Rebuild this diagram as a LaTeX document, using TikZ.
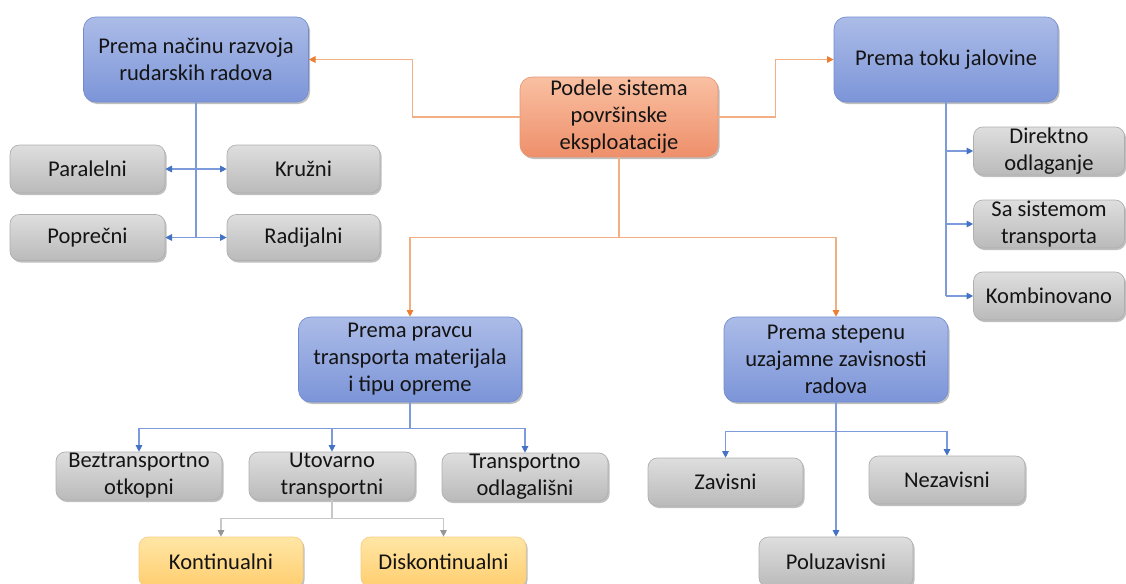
\documentclass[tikz,border=0pt]{standalone}
\usepackage{fontspec}
\setmainfont{Carlito}
\usetikzlibrary{arrows.meta,shadows}
\definecolor{bluetop}{RGB}{172,188,232}
\definecolor{bluebot}{RGB}{124,149,216}
\definecolor{blueedge}{RGB}{112,140,208}
\definecolor{graytop}{RGB}{222,222,222}
\definecolor{graybot}{RGB}{186,186,186}
\definecolor{grayedge}{RGB}{175,175,175}
\definecolor{orgtop}{RGB}{249,192,162}
\definecolor{orgbot}{RGB}{238,143,106}
\definecolor{orgedge}{RGB}{228,152,120}
\definecolor{yeltop}{RGB}{255,230,165}
\definecolor{yelbot}{RGB}{255,206,112}
\definecolor{yeledge}{RGB}{245,205,130}
\definecolor{orgline}{RGB}{243,175,132}
\definecolor{orgarrow}{RGB}{237,125,49}
\definecolor{blueline}{RGB}{125,155,218}
\definecolor{bluearrow}{RGB}{68,114,196}
\definecolor{grayline}{RGB}{200,200,200}
\definecolor{grayarrow}{RGB}{150,150,150}
\definecolor{txt}{RGB}{20,20,20}
\tikzset{
  base/.style={rounded corners=7pt, align=center, inner sep=0pt,
    font=\fontsize{16.9}{20.3}\selectfont, text=txt, line width=0.5pt,
    drop shadow={shadow xshift=1.2pt, shadow yshift=-1.5pt, opacity=0.25, fill=black}},
  bluebox/.style={base, top color=bluetop, bottom color=bluebot, draw=blueedge, rounded corners=9pt},
  orgbox/.style={base, top color=orgtop, bottom color=orgbot, draw=orgedge, rounded corners=9pt},
  graybox/.style={base, top color=graytop, bottom color=graybot, draw=grayedge},
  yelbox/.style={base, top color=yeltop, bottom color=yelbot, draw=yeledge},
  oline/.style={draw=orgline, line width=0.8pt, -{Triangle[length=5pt,width=5pt,color=orgarrow]}},
  olineplain/.style={draw=orgline, line width=0.8pt},
  bline/.style={draw=blueline, line width=0.8pt, -{Triangle[length=5pt,width=5pt,color=bluearrow]}},
  blinetwo/.style={draw=blueline, line width=0.8pt, {Triangle[length=5pt,width=5pt,color=bluearrow]}-{Triangle[length=5pt,width=5pt,color=bluearrow]}},
  blineplain/.style={draw=blueline, line width=0.8pt},
  gline/.style={draw=grayline, line width=0.8pt, -{Triangle[length=5pt,width=5pt,color=grayarrow]}},
  glineplain/.style={draw=grayline, line width=0.8pt},
}
\begin{document}
\begin{tikzpicture}[x=0.75pt,y=-0.75pt]
\useasboundingbox (0,0) rectangle (1126,583);
% main nodes
\node[bluebox, minimum width={225*0.75pt}, minimum height={85*0.75pt}] (A) at (196,59.5) {Prema načinu razvoja\\rudarskih radova};
\node[orgbox, minimum width={198*0.75pt}, minimum height={80*0.75pt}] (O) at (619,117) {Podele sistema\\površinske\\eksploatacije};
\node[bluebox, minimum width={224*0.75pt}, minimum height={85*0.75pt}] (B) at (946,59.5) {Prema toku jalovine};
\node[bluebox, minimum width={223*0.75pt}, minimum height={85*0.75pt}] (C) at (410,359.5) {Prema pravcu\\transporta materijala\\i tipu opreme};
\node[bluebox, minimum width={224*0.75pt}, minimum height={85*0.75pt}] (D) at (836,359.5) {Prema stepenu\\uzajamne zavisnosti\\radova};
% left group
\node[graybox, minimum width={155*0.75pt}, minimum height={48*0.75pt}] (Par) at (87.5,169) {Paralelni};
\node[graybox, minimum width={153*0.75pt}, minimum height={48*0.75pt}] (Kru) at (303.5,169) {Kružni};
\node[graybox, minimum width={155*0.75pt}, minimum height={46*0.75pt}] (Pop) at (87.5,237.5) {Poprečni};
\node[graybox, minimum width={153*0.75pt}, minimum height={46*0.75pt}] (Rad) at (303.5,237.5) {Radijalni};
% right group
\node[graybox, minimum width={151*0.75pt}, minimum height={48*0.75pt}] (Dir) at (1049,151) {Direktno\\odlaganje};
\node[graybox, minimum width={151*0.75pt}, minimum height={48*0.75pt}] (Sa) at (1049,224) {Sa sistemom\\transporta};
\node[graybox, minimum width={151*0.75pt}, minimum height={48*0.75pt}] (Kom) at (1049,296) {Kombinovano};
% bottom left group
\node[graybox, minimum width={166*0.75pt}, minimum height={48*0.75pt}] (Bez) at (139,476) {Beztransportno\\otkopni};
\node[graybox, minimum width={166*0.75pt}, minimum height={48*0.75pt}] (Uto) at (332,476) {Utovarno\\transportni};
\node[graybox, minimum width={166*0.75pt}, minimum height={48*0.75pt}] (Tra) at (525,477) {Transportno\\odlagališni};
\node[yelbox, minimum width={164*0.75pt}, minimum height={50*0.75pt}] (Kon) at (221,562) {Kontinualni};
\node[yelbox, minimum width={165*0.75pt}, minimum height={50*0.75pt}] (Dis) at (443.5,562) {Diskontinualni};
% bottom right group
\node[graybox, minimum width={155*0.75pt}, minimum height={48*0.75pt}] (Zav) at (725.5,482) {Zavisni};
\node[graybox, minimum width={156*0.75pt}, minimum height={48*0.75pt}] (Nez) at (947,480) {Nezavisni};
\node[graybox, minimum width={154*0.75pt}, minimum height={50*0.75pt}] (Pol) at (836,562) {Poluzavisni};
% orange connectors
\draw[oline] (O.west) -- ++(-107,0) |- (A.east);
\draw[oline] (O.east) -- ++(57,0) |- (B.west);
\draw[olineplain] (O.south) -- ++(0,80) coordinate (h);
\draw[oline] (h) -| (C.north);
\draw[oline] (h) -| (D.north);
% left group connectors
\draw[blineplain] (A.south) -- (A.south |- Pop.east);
\draw[blinetwo] (Par.east) -- (Kru.west);
\draw[blinetwo] (Pop.east) -- (Rad.west);
% right group connectors
\draw[blineplain] (B.south) -- (B.south |- Kom.west);
\draw[bline] (B.south |- Dir.west) -- (Dir.west);
\draw[bline] (B.south |- Sa.west) -- (Sa.west);
\draw[bline] (B.south |- Kom.west) -- (Kom.west);
% C connectors
\draw[blineplain] (C.south) -- ++(0,26) coordinate (c1);
\draw[bline] (c1) -| (Bez.north);
\draw[bline] (c1) -| (Uto.north);
\draw[bline] (c1) -| (Tra.north);
% Utovarno connectors
\draw[glineplain] (Uto.south) -- ++(0,18) coordinate (u1);
\draw[gline] (u1) -| (Kon.north);
\draw[gline] (u1) -| (Dis.north);
% D connectors
\draw[blineplain] (D.south) -- ++(0,29) coordinate (d1);
\draw[bline] (d1) -| (Zav.north);
\draw[bline] (d1) -| (Nez.north);
\draw[bline] (D.south) -- (Pol.north);
\end{tikzpicture}
\end{document}
